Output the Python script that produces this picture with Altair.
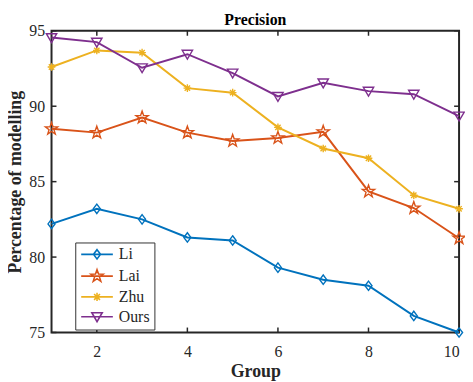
import math
import altair as alt
import pandas as pd

# ---------------- data ----------------
groups = [1, 2, 3, 4, 5, 6, 7, 8, 9, 10]
li = [82.2, 83.2, 82.5, 81.3, 81.1, 79.3, 78.5, 78.1, 76.1, 75.0]
lai = [88.5, 88.25, 89.25, 88.25, 87.7, 87.9, 88.3, 84.35, 83.25, 81.25]
zhu = [92.6, 93.7, 93.55, 91.2, 90.9, 88.6, 87.2, 86.55, 84.1, 83.2]
ours = [94.55, 94.25, 92.55, 93.45, 92.2, 90.65, 91.55, 91.0, 90.8, 89.35]
series_names = ["Li", "Lai", "Zhu", "Ours"]
x_ticks = [2, 4, 6, 8, 10]
y_ticks = [75, 80, 85, 90, 95]
chart_title = ["Precision"]

colors = ["#0072BD", "#D95319", "#EDB120", "#7E2F8E"]

rows = []
for name, vals in zip(series_names, [li, lai, zhu, ours]):
    for g, v in zip(groups, vals):
        rows.append({"group": g, "value": v, "series": name})
df = pd.DataFrame(rows)
xt = pd.DataFrame({"v": x_ticks})
yt = pd.DataFrame({"v": y_ticks})
tt = pd.DataFrame({"t": chart_title})

W, H = 412, 305
FONT = "Liberation Serif"
AXC = "#262626"


# ---------------- marker paths ----------------
def fmt(pts):
    return "M" + "L".join(f"{x:.3f},{y:.3f}" for x, y in pts) + "Z"


def diamond(s=1.0):
    return fmt([(0, -s), (0.75 * s, 0), (0, s), (-0.75 * s, 0)])


def star(s=1.0):
    pts = []
    for k in range(10):
        a = -math.pi / 2 + k * math.pi / 5
        r = s if k % 2 == 0 else 0.4 * s
        pts.append((r * math.cos(a), r * math.sin(a)))
    return fmt(pts)


def asterisk(s=1.0):
    d = 0.7 * s
    return (f"M{-s},0L{s},0M0,{-s}L0,{s}"
            f"M{-d},{-d}L{d},{d}M{-d},{d}L{d},{-d}")


def tri_down(s=1.0):
    return fmt([(-s, -0.75 * s), (s, -0.75 * s), (0, 0.95 * s)])


marker_paths = [diamond(1.0), star(1.0), asterisk(1.0), tri_down(1.0)]
marker_sizes = [90, 170, 60, 110]

# legend symbols: line with marker (unit = 5px when symbolSize=100)
legend_paths = [
    "M-3.2,0L3.2,0" + diamond(0.95),
    "M-3.2,0L3.2,0" + star(1.3),
    "M-3.2,0L3.2,0" + asterisk(0.85),
    "M-3.2,0L3.2,0" + tri_down(1.05),
]

xscale = alt.Scale(domain=[1, 10], nice=False, zero=False)
yscale = alt.Scale(domain=[75, 95], nice=False, zero=False)
cscale = alt.Scale(domain=series_names, range=colors)
LEXPR = "datum.label + '\u00a0\u00a0'"

base = alt.Chart(df)

lines = base.mark_line(strokeWidth=2).encode(
    x=alt.X("group:Q", scale=xscale,
            axis=alt.Axis(values=x_ticks, title="Group", tickSize=0,
                          domain=False, grid=False, labelPadding=11,
                          labelFontSize=16, labelFont=FONT, labelColor=AXC,
                          titleFont=FONT, titleFontSize=18,
                          titleFontWeight="bold", titleColor=AXC,
                          titleY=44, titleBaseline="alphabetic")),
    y=alt.Y("value:Q", scale=yscale,
            axis=alt.Axis(values=y_ticks, title="Percentage of modelling",
                          tickSize=0, domain=False, grid=False,
                          labelPadding=7, labelFontSize=16, labelFont=FONT,
                          labelColor=AXC, titleFont=FONT, titleFontSize=18,
                          titleFontWeight="bold", titleColor=AXC,
                          titleX=-31, titleY=H / 2, titleAngle=-90,
                          titleAlign="center", titleBaseline="alphabetic")),
    color=alt.Color("series:N", scale=cscale,
                    legend=alt.Legend(title=None, labelExpr=LEXPR)),
    detail="series:N",
)

point_layers = []
for name, col, path, sz in zip(series_names, colors, marker_paths, marker_sizes):
    point_layers.append(
        base.transform_filter(alt.datum.series == name)
        .mark_point(shape=path, size=sz, filled=False, color=col,
                    strokeWidth=1.4, opacity=1)
        .encode(x=alt.X("group:Q", scale=xscale),
                y=alt.Y("value:Q", scale=yscale))
    )

legend_layer = base.transform_filter("false").mark_point(
    filled=False, strokeWidth=1.6, opacity=1
).encode(
    x=alt.X("group:Q", scale=xscale),
    y=alt.Y("value:Q", scale=yscale),
    color=alt.Color("series:N", scale=cscale,
                    legend=alt.Legend(title=None, labelExpr=LEXPR)),
    shape=alt.Shape("series:N",
                    scale=alt.Scale(domain=series_names, range=legend_paths),
                    legend=alt.Legend(title=None, labelExpr=LEXPR)),
)

# inward tick marks
tick_len = 5
xb = alt.Chart(xt).mark_rule(color=AXC, strokeWidth=1.5).encode(
    x=alt.X("v:Q", scale=xscale), y=alt.value(H), y2=alt.value(H - tick_len))
xtop = alt.Chart(xt).mark_rule(color=AXC, strokeWidth=1.5).encode(
    x=alt.X("v:Q", scale=xscale), y=alt.value(0), y2=alt.value(tick_len))
yl = alt.Chart(yt).mark_rule(color=AXC, strokeWidth=1.5).encode(
    y=alt.Y("v:Q", scale=yscale), x=alt.value(0), x2=alt.value(tick_len))
yr = alt.Chart(yt).mark_rule(color=AXC, strokeWidth=1.5).encode(
    y=alt.Y("v:Q", scale=yscale), x=alt.value(W), x2=alt.value(W - tick_len))

# chart title as a text mark above the plot
title_text = alt.Chart(tt).mark_text(
    font=FONT, fontSize=16, fontWeight="bold", color="#000000",
    align="center", baseline="alphabetic"
).encode(text="t:N", x=alt.value(W / 2), y=alt.value(-6))

chart = alt.layer(
    xb, xtop, yl, yr, lines, *point_layers, legend_layer, title_text
).properties(
    width=W, height=H,
    background="white",
    autosize=alt.AutoSizeParams(type="none"),
    padding={"left": 44, "top": 21, "right": 6, "bottom": 48},
).configure_view(
    stroke=AXC, strokeWidth=2
).configure_legend(
    orient="none", legendX=24, legendY=214,
    fillColor="white", strokeColor="#333333", padding=4,
    symbolOffset=10, symbolSize=100, symbolStrokeWidth=1.6,
    labelFont=FONT, labelFontSize=16, labelColor=AXC, labelOffset=14,
    rowPadding=4,
)

chart.save("out.html", embed_options={"renderer": "svg", "actions": False})
